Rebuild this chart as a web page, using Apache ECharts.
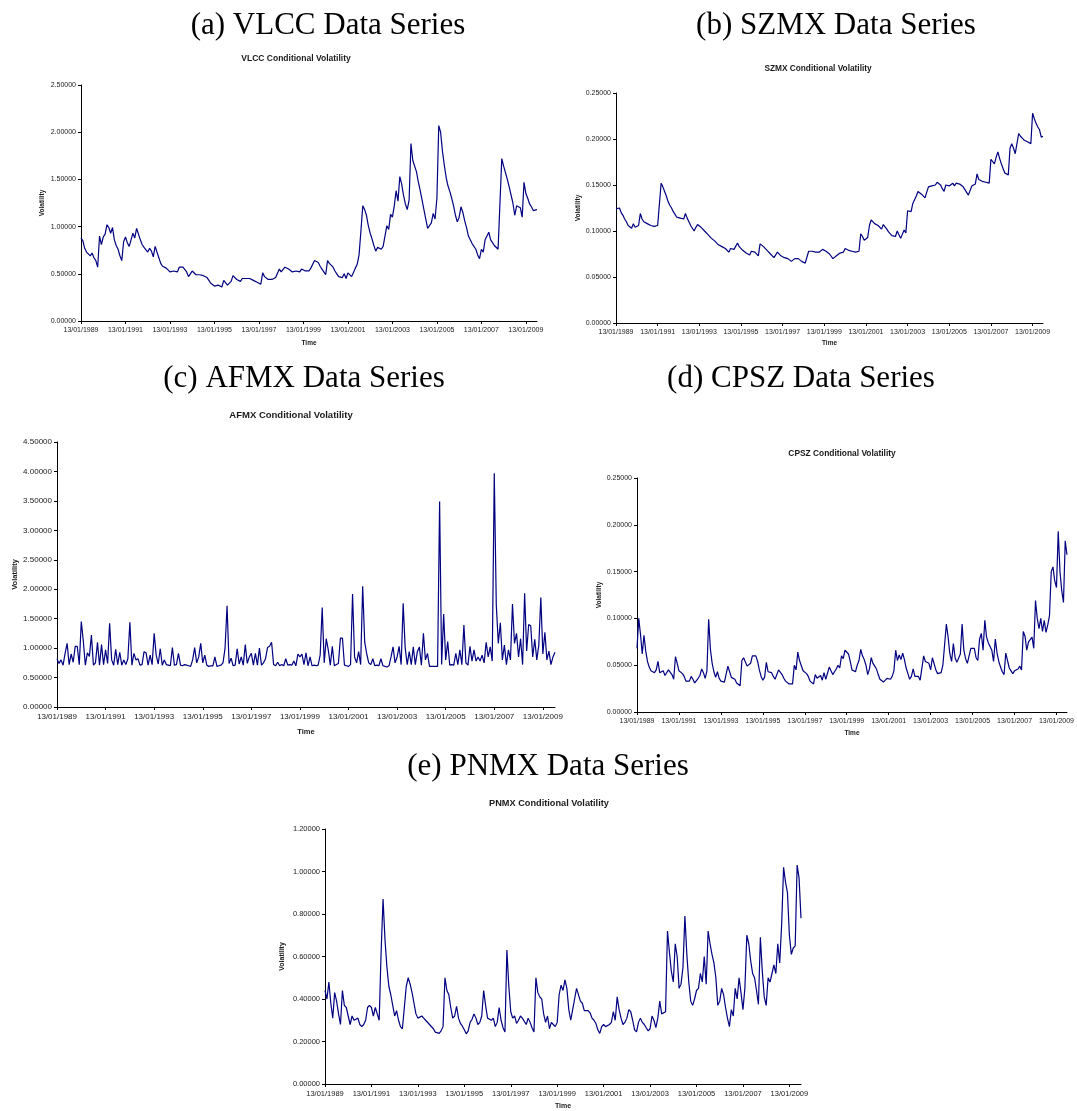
<!DOCTYPE html>
<html>
<head>
<meta charset="utf-8">
<title>Conditional Volatility Data Series</title>
<script src="https://cdn.jsdelivr.net/npm/echarts@6/dist/echarts.min.js"></script>
<style>
  html, body { margin: 0; padding: 0; background: #ffffff; }
  #chart { width: 1077px; height: 1111px; }
</style>
</head>
<body>
<div id="chart"></div>
<script>
// Monthly observations starting 13/01/1989 (index i -> i/12 years after the start).
const startYear = 1989;
const monthsPerYear = 12;
const yearTicks = [0, 2, 4, 6, 8, 10, 12, 14, 16, 18, 20];

const vlcc = [
  0.88,0.85,0.77,0.73,0.71,0.69,0.72,0.67,0.64,0.57,0.90,0.81,
  0.89,0.92,1.02,0.99,0.93,0.99,0.86,0.80,0.76,0.69,0.64,0.84,
  0.89,0.83,0.79,0.86,0.93,0.88,0.98,0.92,0.86,0.81,0.78,0.76,
  0.73,0.77,0.74,0.68,0.79,0.73,0.67,0.61,0.58,0.57,0.56,0.55,
  0.52,0.50,0.53,0.55,0.52,0.57,0.58,0.57,0.55,0.52,0.47,0.50,
  0.53,0.52,0.49,0.50,0.49,0.50,0.48,0.47,0.46,0.43,0.40,0.38,
  0.37,0.37,0.38,0.36,0.36,0.43,0.41,0.38,0.38,0.42,0.48,0.46,
  0.44,0.42,0.42,0.45,0.47,0.45,0.46,0.45,0.46,0.43,0.42,0.41,
  0.40,0.39,0.51,0.47,0.45,0.44,0.44,0.44,0.45,0.46,0.47,0.55,
  0.52,0.54,0.57,0.56,0.55,0.53,0.52,0.50,0.53,0.55,0.52,0.55,
  0.57,0.53,0.55,0.53,0.56,0.60,0.64,0.63,0.62,0.58,0.55,0.52,
  0.49,0.64,0.61,0.59,0.57,0.53,0.50,0.47,0.47,0.46,0.50,0.45,
  0.51,0.50,0.47,0.46,0.56,0.60,0.70,0.95,1.22,1.18,1.12,1.01,
  0.93,0.87,0.80,0.74,0.78,0.78,0.76,0.79,0.78,1.01,0.97,1.13,
  1.10,1.22,1.38,1.27,1.53,1.45,1.33,1.24,1.18,1.28,1.88,1.70,
  1.68,1.58,1.47,1.38,1.28,1.18,1.08,0.98,0.96,1.04,1.14,1.08,
  1.30,2.07,2.00,1.80,1.65,1.52,1.43,1.37,1.30,1.22,1.12,1.05,
  1.10,1.21,1.15,1.06,0.99,0.90,0.86,0.82,0.80,0.76,0.70,0.66,
  0.76,0.73,0.86,0.90,0.94,0.86,0.83,0.80,0.79,0.76,0.78,1.72,
  1.64,1.62,1.50,1.42,1.44,1.25,1.12,1.22,1.20,1.20,1.10,1.47,
  1.35,1.30,1.24,1.21,1.17,1.17,1.18
];

const szmx = [
  0.124,0.124,0.125,0.120,0.117,0.113,0.110,0.106,0.104,0.103,0.108,0.104,
  0.103,0.106,0.119,0.113,0.110,0.110,0.108,0.109,0.106,0.105,0.105,0.103,
  0.106,0.108,0.152,0.148,0.143,0.138,0.132,0.128,0.125,0.121,0.118,0.115,
  0.113,0.114,0.112,0.113,0.119,0.114,0.110,0.106,0.103,0.100,0.104,0.107,
  0.107,0.104,0.102,0.100,0.098,0.096,0.094,0.092,0.091,0.089,0.087,0.085,
  0.085,0.083,0.082,0.081,0.080,0.077,0.081,0.080,0.080,0.082,0.087,0.083,
  0.081,0.079,0.078,0.076,0.075,0.074,0.078,0.079,0.077,0.075,0.073,0.086,
  0.084,0.083,0.081,0.079,0.077,0.075,0.073,0.071,0.070,0.077,0.075,0.073,
  0.072,0.071,0.071,0.070,0.068,0.067,0.066,0.070,0.072,0.070,0.068,0.067,
  0.066,0.065,0.066,0.078,0.079,0.078,0.078,0.077,0.077,0.077,0.076,0.080,
  0.081,0.078,0.076,0.075,0.073,0.070,0.071,0.073,0.074,0.076,0.078,0.077,
  0.081,0.080,0.079,0.078,0.078,0.078,0.077,0.077,0.078,0.097,0.094,0.090,
  0.088,0.093,0.106,0.112,0.110,0.108,0.108,0.106,0.104,0.102,0.107,0.105,
  0.102,0.099,0.097,0.095,0.093,0.094,0.100,0.096,0.092,0.091,0.101,0.098,
  0.122,0.124,0.121,0.130,0.134,0.138,0.143,0.142,0.140,0.138,0.136,0.134,
  0.148,0.150,0.149,0.150,0.150,0.153,0.155,0.150,0.146,0.143,0.150,0.151,
  0.149,0.150,0.152,0.149,0.152,0.151,0.151,0.149,0.148,0.146,0.142,0.139,
  0.138,0.149,0.150,0.151,0.162,0.156,0.155,0.154,0.154,0.153,0.152,0.152,
  0.178,0.177,0.173,0.180,0.186,0.179,0.173,0.168,0.163,0.161,0.161,0.190,
  0.195,0.190,0.184,0.182,0.206,0.203,0.201,0.199,0.201,0.197,0.195,0.195,
  0.228,0.222,0.217,0.213,0.210,0.202,0.203
];

const afmx = [
  0.82,0.74,0.80,0.71,0.91,1.08,0.72,0.90,0.76,1.03,1.03,0.72,
  1.45,1.12,0.71,0.92,0.86,1.22,0.71,0.75,1.10,0.71,1.06,0.72,
  0.97,0.74,1.42,0.80,0.71,0.98,0.72,0.93,0.71,0.80,0.72,0.82,
  1.44,0.71,0.91,0.80,0.82,0.71,0.72,0.94,0.92,0.71,0.88,0.72,
  1.25,0.88,0.73,0.99,0.71,0.80,0.72,0.71,0.70,1.01,0.71,0.72,
  0.91,0.71,0.70,0.72,0.71,0.70,0.69,0.80,1.01,0.75,0.85,1.08,
  0.75,0.88,0.71,0.69,0.70,0.70,0.85,0.69,0.70,0.71,0.75,0.99,
  1.72,0.74,0.83,0.70,0.71,0.99,0.73,0.85,0.71,1.06,0.74,0.85,
  0.91,0.71,0.91,0.71,1.00,0.71,0.75,0.82,1.01,1.03,1.10,0.72,
  0.70,0.76,0.70,0.72,0.70,0.82,0.71,0.72,0.71,0.78,0.70,0.90,
  0.85,0.90,0.72,0.92,0.70,0.85,0.70,0.71,0.70,0.71,0.88,1.69,
  0.75,1.16,0.97,0.71,1.03,0.70,0.72,0.74,1.17,1.17,0.71,0.70,
  0.69,0.72,1.92,0.85,0.75,0.94,0.72,2.05,1.10,0.90,0.75,0.72,
  0.82,0.70,0.71,0.70,0.82,0.70,0.69,0.68,0.70,0.85,1.02,0.75,
  0.85,1.03,0.72,1.76,1.00,0.72,0.94,0.72,1.02,0.72,0.94,1.02,
  0.71,1.25,0.80,0.91,0.69,0.69,0.69,0.69,0.69,3.49,0.72,1.58,
  0.80,1.11,0.71,0.72,0.71,0.91,0.72,0.97,0.72,1.39,0.75,0.71,
  1.03,0.78,0.97,0.78,0.85,0.78,0.88,0.75,1.10,0.85,1.02,0.78,
  3.97,1.73,1.08,1.43,0.80,1.05,0.72,0.97,0.80,1.75,1.08,1.25,
  0.85,1.16,0.72,1.93,0.95,1.40,1.38,0.85,1.15,0.80,1.05,1.86,
  0.90,1.27,0.80,0.95,0.72,0.85,0.93
];

const cpsz = [
  0.068,0.100,0.083,0.062,0.082,0.065,0.054,0.048,0.044,0.046,0.042,0.045,
  0.054,0.042,0.041,0.044,0.039,0.038,0.045,0.044,0.040,0.035,0.059,0.052,
  0.044,0.042,0.041,0.038,0.033,0.031,0.033,0.038,0.035,0.031,0.031,0.036,
  0.039,0.046,0.042,0.036,0.044,0.099,0.067,0.052,0.043,0.037,0.043,0.036,
  0.033,0.032,0.032,0.032,0.049,0.043,0.037,0.039,0.035,0.031,0.029,0.028,
  0.055,0.058,0.056,0.049,0.050,0.052,0.060,0.062,0.060,0.054,0.045,0.038,
  0.034,0.037,0.053,0.043,0.042,0.042,0.038,0.035,0.036,0.045,0.043,0.040,
  0.036,0.033,0.031,0.030,0.029,0.030,0.050,0.045,0.064,0.055,0.053,0.044,
  0.044,0.041,0.038,0.033,0.031,0.030,0.040,0.036,0.036,0.039,0.034,0.042,
  0.035,0.034,0.048,0.044,0.040,0.043,0.046,0.050,0.047,0.060,0.057,0.066,
  0.065,0.062,0.054,0.045,0.043,0.043,0.050,0.055,0.067,0.060,0.056,0.050,
  0.040,0.046,0.058,0.052,0.049,0.046,0.040,0.035,0.033,0.032,0.030,0.036,
  0.035,0.035,0.038,0.044,0.066,0.055,0.061,0.056,0.063,0.056,0.047,0.041,
  0.035,0.038,0.046,0.038,0.037,0.038,0.034,0.033,0.060,0.054,0.053,0.052,
  0.045,0.058,0.056,0.045,0.041,0.043,0.042,0.050,0.052,0.094,0.080,0.062,
  0.054,0.073,0.058,0.053,0.052,0.062,0.094,0.066,0.057,0.052,0.050,0.068,
  0.067,0.068,0.058,0.055,0.078,0.084,0.066,0.098,0.080,0.074,0.070,0.066,
  0.054,0.078,0.063,0.054,0.048,0.043,0.040,0.063,0.055,0.047,0.044,0.041,
  0.044,0.046,0.046,0.049,0.045,0.086,0.081,0.066,0.075,0.074,0.080,0.068,
  0.119,0.100,0.089,0.100,0.086,0.098,0.085,0.093,0.103,0.150,0.155,0.140,
  0.133,0.193,0.150,0.130,0.117,0.183,0.168
];

const pnmx = [
  0.44,0.40,0.48,0.38,0.31,0.43,0.39,0.33,0.28,0.44,0.37,0.36,
  0.32,0.28,0.32,0.30,0.30,0.31,0.28,0.27,0.28,0.30,0.36,0.37,
  0.36,0.32,0.36,0.33,0.30,0.62,0.87,0.68,0.55,0.46,0.42,0.37,
  0.32,0.345,0.30,0.27,0.26,0.36,0.46,0.50,0.47,0.43,0.38,0.33,
  0.31,0.305,0.32,0.31,0.30,0.30,0.28,0.28,0.26,0.244,0.245,0.238,
  0.25,0.27,0.50,0.44,0.42,0.36,0.31,0.32,0.365,0.31,0.285,0.272,
  0.255,0.236,0.25,0.29,0.305,0.33,0.31,0.28,0.29,0.32,0.44,0.37,
  0.31,0.31,0.30,0.31,0.27,0.29,0.36,0.30,0.265,0.245,0.63,0.46,
  0.34,0.31,0.32,0.285,0.30,0.32,0.31,0.31,0.28,0.31,0.29,0.265,
  0.245,0.50,0.43,0.41,0.40,0.33,0.29,0.32,0.26,0.29,0.28,0.27,
  0.29,0.42,0.465,0.44,0.49,0.45,0.35,0.30,0.35,0.40,0.45,0.45,
  0.39,0.38,0.345,0.34,0.345,0.335,0.31,0.30,0.285,0.255,0.238,0.27,
  0.28,0.27,0.265,0.28,0.29,0.34,0.30,0.41,0.35,0.31,0.28,0.29,
  0.31,0.35,0.34,0.30,0.255,0.245,0.29,0.31,0.29,0.28,0.265,0.25,
  0.26,0.32,0.30,0.265,0.31,0.39,0.33,0.335,0.34,0.72,0.62,0.53,
  0.48,0.66,0.60,0.45,0.47,0.55,0.79,0.61,0.48,0.39,0.37,0.40,
  0.44,0.45,0.52,0.48,0.60,0.47,0.72,0.66,0.61,0.57,0.50,0.37,
  0.39,0.45,0.42,0.36,0.31,0.27,0.35,0.32,0.45,0.40,0.50,0.43,
  0.35,0.45,0.70,0.66,0.58,0.52,0.50,0.44,0.375,0.69,0.53,0.41,
  0.37,0.50,0.48,0.52,0.56,0.52,0.66,0.57,0.75,1.02,0.95,0.90,
  0.70,0.61,0.64,0.65,1.03,0.97,0.78
];

// Per-panel drawing setup: plot rectangle, axis scale and text sizes.
const panels = [
  { code: 'VLCC', values: vlcc, heading: '(a) VLCC Data Series',
    grid: { left: 81, top: 85, right: 537, bottom: 321 }, yMax: 2.5, yStep: 0.5,
    headingAt: [328, 26], titleAt: [296, 59], titleSize: 8.5, tickSize: 7, nameSize: 6.5,
    timeGap: 19, volGap: 35 },
  { code: 'SZMX', values: szmx, heading: '(b) SZMX Data Series',
    grid: { left: 616, top: 93, right: 1043, bottom: 323 }, yMax: 0.25, yStep: 0.05,
    headingAt: [836, 26], titleAt: [818, 69], titleSize: 8.3, tickSize: 7, nameSize: 6.5,
    timeGap: 17, volGap: 33 },
  { code: 'AFMX', values: afmx, heading: '(c) AFMX Data Series',
    grid: { left: 57, top: 442, right: 555, bottom: 707 }, yMax: 4.5, yStep: 0.5,
    headingAt: [304, 379], titleAt: [291, 415], titleSize: 9.5, tickSize: 8, nameSize: 7.5,
    timeGap: 21, volGap: 38 },
  { code: 'CPSZ', values: cpsz, heading: '(d) CPSZ Data Series',
    grid: { left: 637, top: 478, right: 1071, bottom: 712 }, yMax: 0.25, yStep: 0.05,
    headingAt: [801, 379], titleAt: [842, 454], titleSize: 8.4, tickSize: 7, nameSize: 6.5,
    timeGap: 18, volGap: 34 },
  { code: 'PNMX', values: pnmx, heading: '(e) PNMX Data Series',
    grid: { left: 325, top: 829, right: 801, bottom: 1085 }, yMax: 1.2, yStep: 0.2,
    headingAt: [548, 767], titleAt: [549, 803], titleSize: 9.2, tickSize: 7.5, nameSize: 7,
    timeGap: 19, volGap: 39 }
];

const sans = '"Liberation Sans", Arial, sans-serif';
const serif = '"Liberation Serif", "Times New Roman", serif';
const lineColor = '#000080';
const inkColor = '#1a1a1a';

function toSeriesData(values) {
  return values.map((v, i) => [i / monthsPerYear, v]);
}

const grids = [], xAxes = [], yAxes = [], series = [], texts = [];

panels.forEach((p, k) => {
  const g = p.grid;
  grids.push({ left: g.left, top: g.top, width: g.right - g.left, height: g.bottom - g.top,
               containLabel: false, show: false });

  xAxes.push({
    type: 'value', gridIndex: k, min: 0, max: 20.5, interval: 2,
    name: 'Time', nameLocation: 'middle', nameGap: p.timeGap,
    nameTextStyle: { fontFamily: sans, fontWeight: 'bold', fontSize: p.nameSize, color: inkColor },
    axisLine: { show: true, onZero: false, lineStyle: { color: '#000', width: 1 } },
    axisTick: { show: true, length: 3, inside: false, customValues: yearTicks,
                lineStyle: { color: '#000', width: 1 } },
    axisLabel: { show: true, margin: 6, fontFamily: sans, fontSize: p.tickSize, color: inkColor,
                 customValues: yearTicks,
                 formatter: v => '13/01/' + (startYear + Math.round(v)) },
    splitLine: { show: false }
  });

  yAxes.push({
    type: 'value', gridIndex: k, min: 0, max: p.yMax, interval: p.yStep,
    name: 'Volatility', nameLocation: 'middle', nameGap: p.volGap,
    nameTextStyle: { fontFamily: sans, fontWeight: 'bold', fontSize: p.nameSize, color: inkColor },
    axisLine: { show: true, lineStyle: { color: '#000', width: 1 } },
    axisTick: { show: true, length: 3, inside: false, lineStyle: { color: '#000', width: 1 } },
    axisLabel: { show: true, margin: 5, fontFamily: sans, fontSize: p.tickSize, color: inkColor,
                 formatter: v => v.toFixed(5) },
    splitLine: { show: false }
  });

  series.push({
    name: p.code, type: 'line', xAxisIndex: k, yAxisIndex: k,
    data: toSeriesData(p.values),
    showSymbol: false, symbol: 'none', smooth: false,
    lineStyle: { color: lineColor, width: 1.2 },
    itemStyle: { color: lineColor },
    emphasis: { disabled: true },
    animation: false
  });

  texts.push({
    type: 'text', x: p.headingAt[0], y: p.headingAt[1], silent: true,
    style: { text: p.heading, font: '31px ' + serif, fill: '#000',
             align: 'center', verticalAlign: 'middle',
             textAlign: 'center', textVerticalAlign: 'middle' }
  });
  texts.push({
    type: 'text', x: p.titleAt[0], y: p.titleAt[1], silent: true,
    style: { text: p.code + ' Conditional Volatility',
             font: 'bold ' + p.titleSize + 'px ' + sans, fill: inkColor,
             align: 'center', verticalAlign: 'middle',
             textAlign: 'center', textVerticalAlign: 'middle' }
  });
});

const chart = echarts.init(document.getElementById('chart'), null, { renderer: 'canvas' });
chart.setOption({
  backgroundColor: '#ffffff',
  animation: false,
  grid: grids,
  xAxis: xAxes,
  yAxis: yAxes,
  series: series,
  graphic: texts
});
</script>
</body>
</html>
